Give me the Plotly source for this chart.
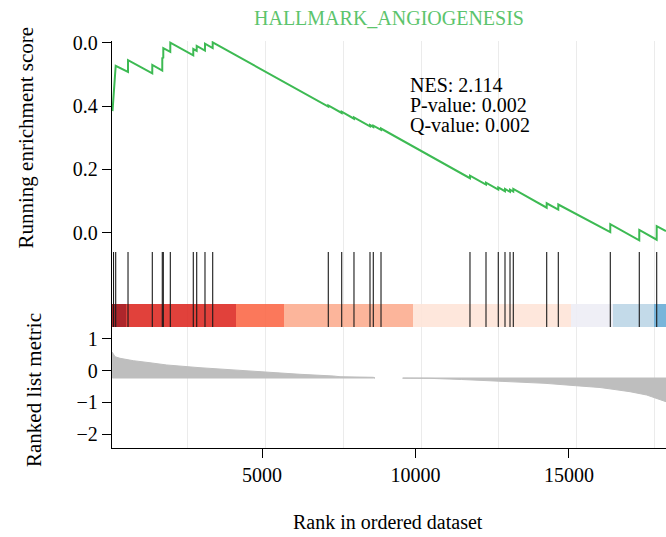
import plotly.graph_objects as go

# ---- data -------------------------------------------------------------
GENE_SET = "HALLMARK_ANGIOGENESIS"
NES_TEXT = ["NES: 2.114", "P-value: 0.002", "Q-value: 0.002"]

# running enrichment score (rank, score) vertices
ES_RANK = [77, 180, 575, 576, 1356, 1357, 1677, 1678, 1710, 1711, 1935, 1936,
           2674, 2675, 2784, 2785, 3050, 3051, 3298, 3299, 7015, 7016, 7446, 7447,
           7841, 7842, 8356, 8357, 8462, 8463, 8710, 8711, 11571, 11572, 12086, 12087,
           12481, 12482, 12697, 12698, 12858, 12859, 12964, 12965, 14038, 14039,
           14411, 14412, 16083, 16084, 17015, 17016, 17575, 17576, 17875]
ES_VALUE = [0.384, 0.527, 0.508, 0.545, 0.503, 0.530, 0.512, 0.553, 0.551, 0.583,
            0.571, 0.600, 0.560, 0.580, 0.574, 0.590, 0.575, 0.597, 0.583, 0.601,
            0.398, 0.402, 0.378, 0.382, 0.360, 0.364, 0.336, 0.340, 0.334, 0.338,
            0.325, 0.329, 0.172, 0.180, 0.152, 0.158, 0.136, 0.143, 0.131, 0.138,
            0.129, 0.136, 0.130, 0.138, 0.079, 0.093, 0.073, 0.089, 0.002, 0.027,
            -0.024, 0.009, -0.022, 0.021, 0.005]

# ranks of the gene-set members
HIT_RANKS = [110, 180, 576, 1357, 1678, 1711, 1936, 2675, 2785, 3051, 3299,
             7016, 7447, 7842, 8357, 8463, 8711, 11572, 12087, 12482, 12698,
             12859, 12965, 14039, 14412, 16084, 17016, 17576]

# colour band along the ranked list
BAND_EDGES = [61, 511, 4048, 5592, 9740, 14820, 16170, 17489, 17875]
BAND_COLORS = ["#A50F15", "#DE2D26", "#FB6A4A", "#FCAE91",
               "#FEE5D9", "#EEEEF6", "#BDD7E7", "#6BAED6"]

# ranked list metric (two runs, split where the metric is flat)
METRIC_POS_RANK = [71, 158, 318, 746, 1283, 1820, 2891, 3961, 5035, 5569,
                   6106, 7177, 7392, 8463, 8518]
METRIC_POS_VALUE = [0.579, 0.44, 0.39, 0.315, 0.25, 0.18, 0.094, 0.022, -0.041,
                    -0.082, -0.113, -0.167, -0.189, -0.208, -0.217]
METRIC_NEG_RANK = [9408, 10286, 11305, 12215, 12955, 13984, 14971, 15752,
                   16170, 16717, 17254, 17553, 17875]
METRIC_NEG_VALUE = [-0.235, -0.24, -0.277, -0.315, -0.346, -0.397, -0.472,
                    -0.529, -0.585, -0.661, -0.765, -0.859, -0.976]
METRIC_BASE = -0.23

X_TICKS = [5000, 10000, 15000]

# ---- styling ----------------------------------------------------------
FONT = "Liberation Serif"
GREEN = "#3DBA53"
TITLE_GREEN = "#5CC46C"
W, H = 666, 537
L, R, T, B = 112, 0, 41, 89
PLOT_H = H - T - B


def py(px):
    """pixel row -> paper y"""
    return (H - B - px) / PLOT_H


def px_x(px):
    """pixel column -> paper x"""
    return (px - L) / (W - L - R)


fig = go.Figure()

# running enrichment score
fig.add_trace(go.Scatter(x=ES_RANK, y=ES_VALUE, mode="lines",
                         line=dict(color=GREEN, width=2),
                         xaxis="x", yaxis="y", showlegend=False, hoverinfo="skip"))

# hit marks
hx, hy = [], []
for h in HIT_RANKS:
    hx += [h, h, None]
    hy += [1, 76, None]
fig.add_trace(go.Scatter(x=hx, y=hy, mode="lines",
                         line=dict(color="#1A1A1A", width=1.1),
                         xaxis="x", yaxis="y2", showlegend=False, hoverinfo="skip"))

# colour band
centers = [(BAND_EDGES[i] + BAND_EDGES[i + 1]) / 2 for i in range(len(BAND_COLORS))]
widths = [BAND_EDGES[i + 1] - BAND_EDGES[i] for i in range(len(BAND_COLORS))]
fig.add_trace(go.Bar(x=centers, width=widths, y=[23.3] * len(centers),
                     base=[0.7] * len(centers), marker=dict(color=BAND_COLORS, line_width=0),
                     opacity=0.9, xaxis="x", yaxis="y2", showlegend=False, hoverinfo="skip"))

# ranked list metric areas
for ranks, vals in ((METRIC_POS_RANK, METRIC_POS_VALUE),
                    (METRIC_NEG_RANK, METRIC_NEG_VALUE)):
    xs = list(ranks) + list(reversed(ranks)) + [ranks[0]]
    ys = list(vals) + [METRIC_BASE] * len(ranks) + [vals[0]]
    fig.add_trace(go.Scatter(x=xs, y=ys, mode="lines", fill="toself",
                             fillcolor="#BEBEBE", line=dict(color="#BEBEBE", width=1),
                             xaxis="x", yaxis="y3", showlegend=False, hoverinfo="skip"))

# carrier for the labelled rank axis
fig.add_trace(go.Scatter(x=[], y=[], xaxis="x2", yaxis="y3", showlegend=False))

axis_font = dict(family=FONT, size=20, color="black")
d_top = py(250)
d_mid = py(328)

fig.update_layout(
    width=W, height=H,
    margin=dict(l=L, r=R, t=T, b=B),
    paper_bgcolor="white", plot_bgcolor="white",
    font=dict(family=FONT, size=20, color="black"),
    bargap=0,
    xaxis=dict(domain=[0, 1], range=[61, 17875], anchor="y3",
               showgrid=True, gridcolor="#EBEBEB", gridwidth=1,
               tick0=0, dtick=2500, showticklabels=False, ticks="",
               showline=False, zeroline=False),
    xaxis2=dict(domain=[0, 1], range=[114, 18160], anchor="y3", overlaying="x",
                side="bottom", tickvals=X_TICKS, ticktext=[str(v) for v in X_TICKS],
                ticks="outside", ticklen=9, tickwidth=1.3, tickcolor="black",
                showline=True, linecolor="black", linewidth=1.3,
                showgrid=False, zeroline=False, tickfont=axis_font),
    yaxis=dict(domain=[d_top, 1], range=[-0.0546, 0.6053], anchor="x",
               tickvals=[0, 0.2, 0.4, 0.6], ticktext=["0.0", "0.2", "0.4", "0.0"],
               ticks="outside", ticklen=9, tickwidth=1.3, tickcolor="black",
               showline=True, linecolor="black", linewidth=1.3,
               showgrid=False, zeroline=False, tickfont=axis_font),
    yaxis2=dict(domain=[d_mid, d_top], range=[0, 78], anchor="x",
                showticklabels=False, ticks="", showline=True,
                linecolor="black", linewidth=1.3, showgrid=False, zeroline=False),
    yaxis3=dict(domain=[0, d_mid], range=[-2.433, 1.344], anchor="x",
                tickvals=[-2, -1, 0, 1], ticks="outside", ticklen=9, tickwidth=1.3,
                tickcolor="black", showline=True, linecolor="black", linewidth=1.3,
                showgrid=False, zeroline=False, tickfont=axis_font),
)

ann = [
    dict(text=GENE_SET, x=px_x(389), y=py(18), font=dict(family=FONT, size=20, color=TITLE_GREEN),
         xanchor="center", yanchor="middle"),
    dict(text="Running enrichment score", x=px_x(25), y=py(137.5), textangle=-90,
         font=dict(family=FONT, size=21), xanchor="center", yanchor="middle"),
    dict(text="Ranked list metric", x=px_x(34), y=py(390), textangle=-90,
         font=dict(family=FONT, size=21), xanchor="center", yanchor="middle"),
    dict(text="Rank in ordered dataset", x=px_x(388), y=py(521.7),
         font=dict(family=FONT, size=20), xanchor="center", yanchor="middle"),
]
for i, line in enumerate(NES_TEXT):
    ann.append(dict(text=line, x=px_x(408), y=py(85 + 20 * i),
                    font=dict(family=FONT, size=20), xanchor="left", yanchor="middle"))
for a in ann:
    a.update(xref="paper", yref="paper", showarrow=False)
fig.update_layout(annotations=ann)

fig.write_html("out.html")
